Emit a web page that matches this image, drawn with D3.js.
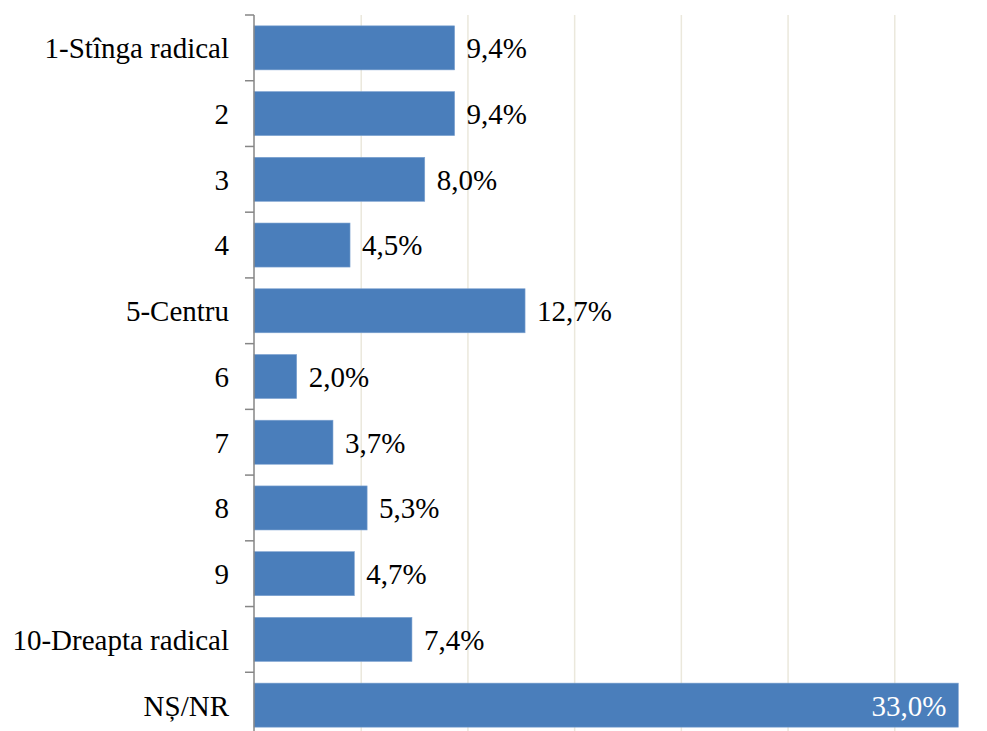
<!DOCTYPE html>
<html><head><meta charset="utf-8">
<script src="https://cdn.jsdelivr.net/npm/d3@7"></script>
<style>body{margin:0;background:#fff;overflow:hidden} text{font-family:"Liberation Serif","Times New Roman",Times,serif;font-size:29px}</style>
</head><body>
<svg id="c" width="987" height="731"></svg>
<script>
const categories = ["1-Stînga radical","2","3","4","5-Centru","6","7","8","9","10-Dreapta radical","NȘ/NR"];
const values = [9.4,9.4,8.0,4.5,12.7,2.0,3.7,5.3,4.7,7.4,33.0];
const xTicks = [5,10,15,20,25,30,35];

(function(){
const svg = d3.select("#c");
const pLeft = 254, pRight = 1001, pTop = 15, pBottom = 738;
const x = d3.scaleLinear().domain([0,35]).range([pLeft,pRight]);
const y = d3.scaleBand().domain(categories).range([pTop,pBottom]).paddingInner(0.33).paddingOuter(0.165);

// gridlines
svg.append("g").selectAll("line").data(xTicks).join("line")
  .attr("x1", d=>x(d)+0.5).attr("x2", d=>x(d)+0.5)
  .attr("y1", pTop).attr("y2", pBottom)
  .attr("stroke", "#ebe8dc").attr("stroke-width", 1.5);

// bars
svg.append("g").selectAll("rect").data(categories).join("rect")
  .attr("x", x(0)).attr("y", d=>y(d))
  .attr("width", (d,i)=>x(values[i])-x(0)).attr("height", y.bandwidth())
  .attr("fill", "#4a7ebb").attr("stroke","#7ea3d1").attr("stroke-width",0.6);

// value labels
svg.append("g").selectAll("text").data(categories).join("text")
  .attr("x", (d,i)=> values[i] > 30 ? x(values[i]) - 12 : x(values[i]) + 12)
  .attr("y", d=>y(d)+y.bandwidth()/2)
  .attr("dy", "0.36em")
  .attr("text-anchor", (d,i)=> values[i] > 30 ? "end" : "start")
  .attr("fill", (d,i)=> values[i] > 30 ? "#fff" : "#000")
  .text((d,i)=> values[i].toFixed(1).replace(".", ",") + "%");

// y axis line
const gap = y.step() - y.bandwidth();
svg.append("line").attr("x1", pLeft).attr("x2", pLeft).attr("y1", pTop).attr("y2", pBottom)
  .attr("stroke", "#868686").attr("stroke-width", 1.5);
const tickYs = categories.map(d => y(d) - gap/2).concat([y(categories[categories.length-1]) + y.bandwidth() + gap/2]);
svg.append("g").selectAll("line").data(tickYs).join("line")
  .attr("x1", pLeft-9).attr("x2", pLeft).attr("y1", d=>d).attr("y2", d=>d)
  .attr("stroke", "#868686").attr("stroke-width", 1.5);

// category labels
svg.append("g").selectAll("text").data(categories).join("text")
  .attr("x", 229).attr("y", d=>y(d)+y.bandwidth()/2).attr("dy","0.36em")
  .attr("text-anchor","end").attr("fill","#000")
  .text(d=>d);
})();
</script>
</body></html>
